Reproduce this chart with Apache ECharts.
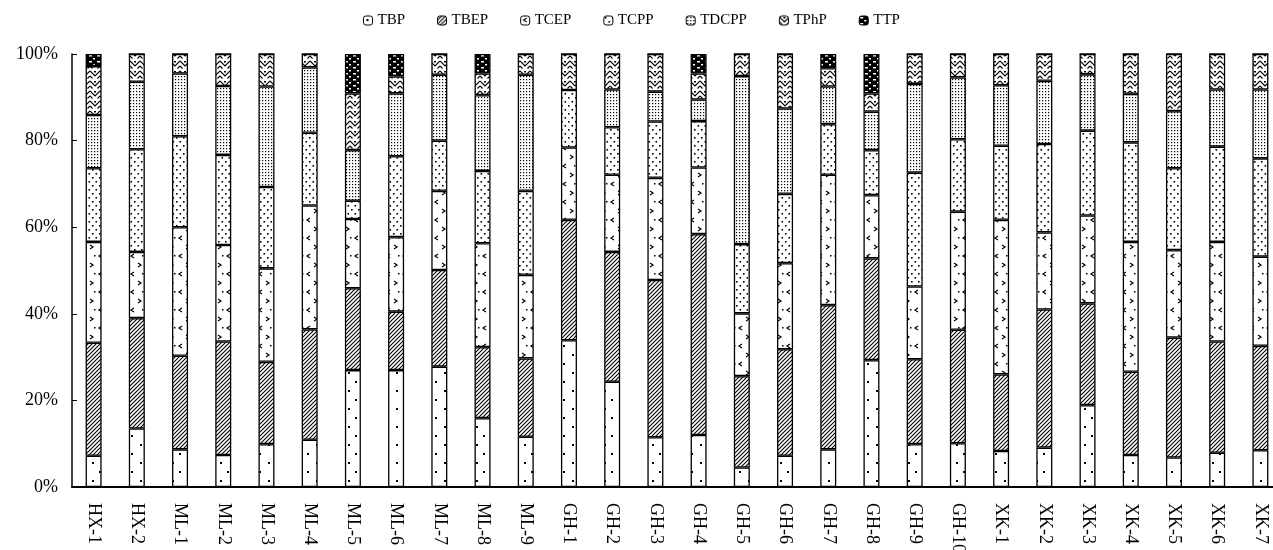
<!DOCTYPE html>
<html>
<head>
<meta charset="utf-8">
<script src="https://cdn.jsdelivr.net/npm/echarts@6/dist/echarts.min.js"></script>
<style>
html,body{margin:0;padding:0;background:#fff;}
#chart{width:1273px;height:550px;}
</style>
</head>
<body>
<div id="chart"></div>
<script>
const categories = ['HX-1','HX-2','ML-1','ML-2','ML-3','ML-4','ML-5','ML-6','ML-7','ML-8','ML-9',
  'GH-1','GH-2','GH-3','GH-4','GH-5','GH-6','GH-7','GH-8','GH-9','GH-10',
  'XK-1','XK-2','XK-3','XK-4','XK-5','XK-6','XK-7'];
const seriesNames = ['TBP','TBEP','TCEP','TCPP','TDCPP','TPhP','TTP'];
const TBP   = [7.2,13.5,8.7,7.4,9.9,10.9,27.0,27.0,27.8,15.9,11.6,33.9,24.3,11.5,12.0,4.5,7.2,8.7,29.3,9.9,10.1,8.3,9.1,18.9,7.4,6.8,7.9,8.5];
const TBEP  = [26.1,25.5,21.6,26.2,19.0,25.5,18.9,13.5,22.3,16.4,18.1,27.8,30.0,36.3,46.4,21.1,24.6,33.3,23.5,19.6,26.2,17.7,31.9,23.5,19.2,27.7,25.7,24.1];
const TCEP  = [23.3,15.3,29.7,22.3,21.6,28.6,16.0,17.2,18.3,24.0,19.3,16.7,17.8,23.6,15.4,14.5,19.9,30.1,14.6,16.8,27.3,35.7,17.8,20.3,30.0,20.2,23.0,20.6];
const TCPP  = [17.0,23.7,21.0,20.8,18.8,16.8,4.2,18.7,11.6,16.7,19.4,13.3,11.0,13.0,10.7,16.0,16.0,11.7,10.4,26.3,16.7,17.1,20.4,19.6,23.0,18.9,22.0,22.7];
const TDCPP = [12.3,15.6,14.5,15.9,23.2,15.1,11.7,14.5,15.2,17.5,26.8,0,8.7,6.9,5.0,38.8,19.7,8.7,8.9,20.5,14.3,14.0,14.6,13.0,11.2,13.2,13.2,15.9];
const TPhP  = [11.3,6.4,4.5,7.4,7.5,3.1,13.1,3.9,4.8,5.0,4.8,8.3,8.2,8.7,6.0,5.1,12.6,4.2,4.2,6.9,5.4,7.2,6.2,4.7,9.2,13.2,8.2,8.2];
const TTP   = [2.8,0,0,0,0,0,9.1,5.2,0,4.5,0,0,0,0,4.5,0,0,3.3,9.1,0,0,0,0,0,0,0,0,0];
const yTicks = [0,20,40,60,80,100];

function tile(w, h, bg, draw) {
  const c = document.createElement('canvas');
  c.width = w; c.height = h;
  const g = c.getContext('2d');
  g.fillStyle = bg; g.fillRect(0, 0, w, h);
  g.fillStyle = '#000'; g.strokeStyle = '#000';
  draw(g);
  return { image: c, repeat: 'repeat' };
}
const patterns = {
  TBP: tile(16, 18, '#fff', g => { g.fillRect(3, 3, 2, 2); g.fillRect(12, 12, 2, 2); }),
  TBEP: tile(4, 4, '#fff', g => {
    g.lineWidth = 1.1; g.beginPath();
    g.moveTo(-1, 5); g.lineTo(5, -1); g.moveTo(-1, 1); g.lineTo(1, -1); g.moveTo(3, 5); g.lineTo(5, 3);
    g.stroke();
  }),
  TCEP: tile(16, 18, '#fff', g => {
    g.lineWidth = 1.2; g.beginPath();
    g.moveTo(6, 2); g.lineTo(3, 4); g.lineTo(6, 6);
    g.moveTo(10, 11); g.lineTo(13, 13); g.lineTo(10, 15);
    g.stroke();
    g.fillRect(14, 3, 1.5, 1.5);
  }),
  TCPP: tile(7, 8, '#fff', g => { g.fillRect(1, 1, 1.6, 1.6); g.fillRect(4.5, 5, 1.6, 1.6); }),
  TDCPP: tile(3, 3, '#fff', g => { g.fillRect(1, 1, 1.2, 1.2); }),
  TPhP: tile(10, 10, '#fff', g => {
    g.lineWidth = 1.2; g.beginPath();
    g.moveTo(0, 1); g.lineTo(5, 6); g.lineTo(10, 1);
    g.moveTo(0, 6); g.lineTo(2.5, 8.5); g.moveTo(10, 6); g.lineTo(7.5, 8.5);
    g.stroke();
    g.fillRect(4, 1, 2, 1.5);
  }),
  TTP: tile(8, 6, '#000', g => { g.fillStyle = '#fff'; g.fillRect(1, 1, 3, 1.5); g.fillRect(5, 4, 2, 1.5); })
};
const dataBySeries = { TBP, TBEP, TCEP, TCPP, TDCPP, TPhP, TTP };

const font = 'Liberation Serif';
const chart = echarts.init(document.getElementById('chart'), null, { renderer: 'canvas' });
chart.setOption({
  animation: false,
  backgroundColor: '#fff',
  legend: {
    top: 8, left: 358,
    itemWidth: 9, itemHeight: 9, itemGap: 32,
    textStyle: { fontFamily: font, fontSize: 15, color: '#000' },
    itemStyle: { borderColor: '#000', borderWidth: 1 },
    data: seriesNames
  },
  grid: { left: 72, width: 1210, top: 54, height: 433, outerBoundsMode: 'none', containLabel: false },
  xAxis: {
    type: 'category', data: categories,
    axisLine: { lineStyle: { color: '#000', width: 2 } },
    axisTick: { inside: true, length: 5, lineStyle: { color: '#000', width: 1 } },
    axisLabel: { rotate: -90, margin: 16, fontFamily: font, fontSize: 18, color: '#000', interval: 0, hideOverlap: false }
  },
  yAxis: {
    type: 'value', min: yTicks[0], max: yTicks[yTicks.length - 1], interval: 20,
    splitLine: { show: false },
    axisLine: { show: true, lineStyle: { color: '#000', width: 1.5 } },
    axisTick: { show: true, inside: true, length: 5, lineStyle: { color: '#000' } },
    axisLabel: { formatter: '{value}%', margin: 14, fontFamily: font, fontSize: 18, color: '#000' }
  },
  series: seriesNames.map(n => ({
    name: n, type: 'bar', stack: 'total', barWidth: 16,
    data: dataBySeries[n],
    itemStyle: { color: patterns[n], borderColor: '#000', borderWidth: 1.3 }
  }))
});
</script>
</body>
</html>
